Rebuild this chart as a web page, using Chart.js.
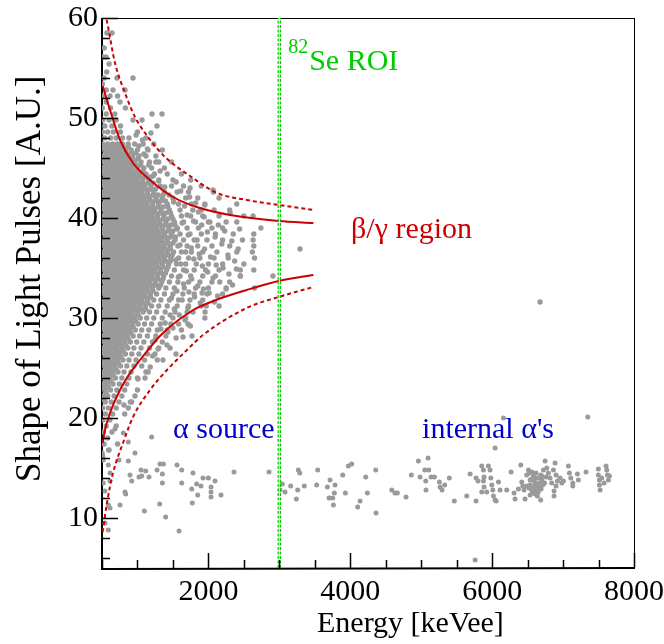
<!DOCTYPE html>
<html>
<head>
<meta charset="utf-8">
<script src="https://cdn.jsdelivr.net/npm/chart.js@4.4.1/dist/chart.umd.min.js"></script>
<style>
html,body{margin:0;padding:0;background:#fff;}
#wrap{width:664px;height:644px;}
</style>
</head>
<body>
<div id="wrap"><canvas id="c" width="664" height="644"></canvas></div>
<script>
// ---------- data ----------
const xTicks = [2000, 4000, 6000, 8000];
const yTicks = [10, 20, 30, 40, 50, 60];
const roiEnergy = 3000;

// beta/gamma cloud, rows of [shape value, [energies]]
const betaRows = [
 [58.5,[570,641]],
 [57.0,[530]],
 [56.1,[514,556]],
 [55.4,[600]],
 [54.6,[566]],
 [54.0,[530,711,937]],
 [53.4,[505]],
 [52.8,[560,655,824]],
 [52.2,[510,613,720]],
 [51.6,[560,754]],
 [51.0,[505,620,830]],
 [50.4,[560,680,1205,1346]],
 [49.8,[510,600,700,937,1064]],
 [49.2,[540,640,760,1275]],
 [48.6,[505,580,660,760,1000]],
 [48.0,[540,620,700,790,880,1120]],
 [47.4,[510,580,650,720,790,870,960,1080,1230]],
 [46.8,[540,610,680,750,830,910,1000,1150,1350]],
 [46.2,[505,570,640,710,780,850,930,1020,1120,1260]],
 [45.6,[530,600,670,740,810,880,960,1050,1170,1300,1480]],
 [45.0,[505,570,640,710,780,850,920,1000,1090,1200,1380]],
 [44.4,[535,605,675,745,815,885,955,1030,1120,1240,1420,1620]],
 [43.8,[505,570,640,710,780,850,920,990,1070,1160,1300,1500,1750]],
 [43.2,[535,605,675,745,815,885,955,1025,1100,1190,1320,1480,1650,1900]],
 [42.6,[505,570,640,710,780,850,920,990,1060,1140,1230,1380,1560,1720,2070]],
 [42.0,[535,605,675,745,815,885,955,1025,1095,1170,1260,1350,1500,1680,1850,2150]],
 [41.4,[505,570,640,710,780,850,920,990,1060,1130,1210,1300,1420,1580,1760,1950,2400]],
 [40.8,[535,605,675,745,815,885,955,1025,1095,1165,1240,1330,1450,1600,1780,1900,2080,2300]],
 [40.2,[505,570,640,710,780,850,920,990,1060,1130,1200,1280,1370,1480,1620,1750,1920,2150,2500,2630]],
 [39.6,[535,605,675,745,815,885,955,1025,1095,1165,1235,1310,1400,1520,1650,1820,2000,2250,2400]],
 [39.0,[505,570,640,710,780,850,920,990,1060,1130,1200,1270,1350,1440,1560,1700,1860,2050,2200,2740]],
 [38.4,[535,605,675,745,815,885,955,1025,1095,1165,1235,1305,1380,1480,1600,1740,1900,2100,2350,2640]],
 [37.8,[505,570,640,710,780,850,920,990,1060,1130,1200,1270,1340,1420,1530,1650,1800,1980,2200,2480,2630]],
 [37.2,[535,605,675,745,815,885,955,1025,1095,1165,1235,1305,1375,1460,1570,1700,1850,2050,2300,2640]],
 [36.6,[505,570,640,710,780,850,920,990,1060,1130,1200,1270,1340,1420,1510,1620,1760,1920,2120,2400,2620]],
 [36.0,[535,605,675,745,815,885,955,1025,1095,1165,1235,1305,1380,1470,1580,1720,1880,2080,2280,2650]],
 [35.4,[505,570,640,710,780,850,920,990,1060,1130,1200,1270,1350,1440,1550,1680,1830,2000,2200,2500]],
 [34.8,[535,605,675,745,815,885,955,1025,1095,1165,1240,1320,1410,1520,1650,1800,1960,2150,2450,2640]],
 [34.2,[505,570,640,710,780,850,920,990,1060,1130,1200,1280,1370,1480,1600,1750,1920,2100,2450,2910]],
 [33.6,[535,605,675,745,815,885,955,1025,1095,1170,1250,1340,1450,1570,1720,1880,2050,2300]],
 [33.0,[505,570,640,710,780,850,920,990,1060,1130,1210,1300,1400,1520,1660,1820,2000,2250,2650]],
 [32.4,[535,605,675,745,815,885,955,1025,1100,1180,1270,1380,1500,1640,1800,1980,2200]],
 [31.8,[505,570,640,710,780,850,920,990,1060,1140,1230,1330,1450,1580,1740,1920]],
 [31.2,[535,605,675,745,815,885,955,1030,1110,1200,1300,1420,1560,1720,1900,2150]],
 [30.6,[505,570,640,710,780,850,920,1000,1080,1170,1270,1390,1530,1700,1953]],
 [30.0,[535,605,675,745,815,885,960,1040,1130,1230,1350,1500,1680,1950]],
 [29.4,[505,570,640,710,780,850,925,1010,1100,1200,1320,1470,1712]],
 [28.8,[535,605,675,745,815,890,970,1060,1160,1280,1420,1620]],
 [28.2,[505,570,640,710,780,855,940,1030,1140,1260,1400,1769]],
 [27.6,[535,605,675,745,820,900,990,1090,1210,1350]],
 [27.0,[505,570,640,710,785,865,950,1050,1170,1300,1459]],
 [26.4,[535,605,675,750,830,920,1020,1140,1247,1543]],
 [25.8,[505,570,640,715,795,880,980,1100,1280]],
 [25.2,[535,605,680,760,850,950,1060]],
 [24.6,[505,570,645,725,810,910,1150]],
 [24.0,[535,610,690,780,880,1000,1106]],
 [23.4,[505,575,655,745,850]],
 [22.8,[540,620,710,820,1000]],
 [22.2,[505,580,670,780,965]],
 [21.6,[545,630,740,900]],
 [21.0,[510,590,700,871]],
 [20.4,[550,650,820]],
 [19.8,[515,610]],
 [19.2,[560,700]],
 [18.6,[520,640]],
 [18.0,[580]],
 [17.4,[530,720]],
 [16.8,[600]],
 [16.2,[510]]
];

// the densest part of the cloud, in-between rows
const coreRows = [
 [47.1,[520,590,660,730,800,870]],
 [46.5,[555,625,695,765,835,905,975]],
 [45.9,[520,590,660,730,800,870,940,1010]],
 [45.3,[555,625,695,765,835,905,975,1045]],
 [44.7,[520,590,660,730,800,870,940,1010,1080]],
 [44.1,[555,625,695,765,835,905,975,1045,1115,1185]],
 [43.5,[520,590,660,730,800,870,940,1010,1080,1150,1220]],
 [42.9,[555,625,695,765,835,905,975,1045,1115,1185,1255]],
 [42.3,[520,590,660,730,800,870,940,1010,1080,1150,1220,1290,1360]],
 [41.7,[555,625,695,765,835,905,975,1045,1115,1185,1255,1325,1395]],
 [41.1,[520,590,660,730,800,870,940,1010,1080,1150,1220,1290,1360,1430]],
 [40.5,[555,625,695,765,835,905,975,1045,1115,1185,1255,1325,1395,1465]],
 [39.9,[520,590,660,730,800,870,940,1010,1080,1150,1220,1290,1360,1430,1500]],
 [39.3,[555,625,695,765,835,905,975,1045,1115,1185,1255,1325,1395,1465,1530]],
 [38.7,[520,590,660,730,800,870,940,1010,1080,1150,1220,1290,1360,1430,1500]],
 [38.1,[555,625,695,765,835,905,975,1045,1115,1185,1255,1325,1395,1465,1535]],
 [37.5,[520,590,660,730,800,870,940,1010,1080,1150,1220,1290,1360,1430,1500]],
 [36.9,[555,625,695,765,835,905,975,1045,1115,1185,1255,1325,1395,1465]],
 [36.3,[520,590,660,730,800,870,940,1010,1080,1150,1220,1290,1360,1430,1490]],
 [35.7,[555,625,695,765,835,905,975,1045,1115,1185,1255,1325,1395,1465]],
 [35.1,[520,590,660,730,800,870,940,1010,1080,1150,1220,1290,1360,1430]],
 [34.5,[555,625,695,765,835,905,975,1045,1115,1185,1255,1325,1395]],
 [33.9,[520,590,660,730,800,870,940,1010,1080,1150,1220,1290,1360]],
 [33.3,[555,625,695,765,835,905,975,1045,1115,1185,1255,1325]],
 [32.7,[520,590,660,730,800,870,940,1010,1080,1150,1220]],
 [32.1,[555,625,695,765,835,905,975,1045,1115,1185]],
 [31.5,[520,590,660,730,800,870,940,1010,1080,1150]],
 [30.9,[555,625,695,765,835,905,975,1045,1115]],
 [30.3,[520,590,660,730,800,870,940,1010]],
 [29.7,[555,625,695,765,835,905,975]],
 [29.1,[520,590,660,730,800,870,940]],
 [28.5,[555,625,695,765,835,905]],
 [27.9,[520,590,660,730,800,870]],
 [27.3,[555,625,695,765,835]],
 [26.7,[520,590,660,730,800]],
 [26.1,[555,625,695,765]],
 [25.5,[520,590,660,730]],
 [24.9,[555,625,695]],
 [24.3,[520,590,660]],
 [23.7,[555,625]],
 [23.1,[520,590]],
 [22.5,[555]],
 [21.9,[520]]
];

// scattered points around the edge of the cloud [energy, shape]
const fringePts = [
 [1320,44.7],[1385,43.1],[1445,42.3],[1510,41.6],[1545,43.6],[1610,42.7],[1665,41.2],[1700,40.3],
 [1735,42.1],[1790,39.7],[1820,41.5],[1860,40.6],[1905,39.3],[1940,40.1],[1985,38.6],[2020,39.6],
 [2095,38.1],[2140,39.3],[2190,37.4],[2230,38.7],[2275,36.3],[2330,37.7],[2370,35.7],[2420,36.9],
 [2440,38.9],[1560,38.9],[1600,37.3],[1630,39.5],[1680,36.6],[1715,38.3],[1760,37.0],[1795,35.9],
 [1840,37.8],[1870,36.4],[1915,35.2],[1945,36.9],[1990,34.6],[2030,36.1],[2065,34.0],[2110,35.3],
 [2160,33.6],[2205,35.0],[2250,32.9],[2290,34.4],[2340,33.3],[2395,34.9],[1540,35.8],[1575,34.1],
 [1610,35.4],[1650,33.4],[1690,34.7],[1725,32.6],[1765,33.9],[1805,32.1],[1850,33.2],[1885,31.5],
 [1930,32.9],[1970,31.2],[2010,32.5],[2085,31.6],[2130,32.2],[1480,32.0],[1520,30.9],[1555,32.7],
 [1590,30.3],[1630,31.8],[1670,29.8],[1710,31.0],[1745,29.2],[1390,29.5],[1430,28.6],[1460,30.3],
 [1500,29.0],[1545,28.0],[1580,29.4],[1250,27.8],[1290,26.9],[1330,28.9],[1180,25.1],[1215,26.2],
 [1120,24.6],[1020,47.2],[1090,46.4],[1160,45.3],[1220,44.2],[1070,47.8],[1140,46.9],[1260,45.6],
 [1300,43.7],[1190,48.5],[980,48.3]
];

// isolated points in the beta/gamma region and beyond
const extraPts = [
 [2065,42.8],[2305,40.5],[1950,41.3],[1741,43.0],[3292,36.9],[2450,34.2],
 [1910,32.5],[1783,30.6],[1642,28.1],[1416,27.3],[1360,25.8],[1008,23.9],
 [919,21.6],[810,21.3],[6676,31.6]
];

// alpha band points [energy, shape]
const alphaPts = [
 [504,16.5],[589,16.8],[518,15.8],[589,15.3],[613,14.5],[518,13.5],[613,13.7],
 [542,12.7],[589,11.3],[613,11.0],[542,9.5],[589,8.8],[754,11.3],[740,15.8],
 [871,15.7],[895,14.3],[919,13.7],[871,17.6],[965,16.5],[801,18.5],[683,18.9],
 [824,12.6],[834,12.4],[1200,18.1],[1050,14.8],[1116,14.7],[1022,14.1],[1060,14.2],
 [1163,14.1],[1097,10.7],[1276,14.8],[1318,15.4],[1365,15.4],[1351,14.4],[1351,13.5],
 [1313,11.4],[1398,10.1],[1558,15.3],[1624,14.8],[1624,13.5],[1586,8.7],[1783,14.5],
 [1765,12.9],[1773,11.5],[1834,13.4],[1849,12.3],[1896,13.2],[1924,14.0],[1999,14.0],
 [2037,13.1],[2037,12.6],[2037,12.1],[2093,13.7],[2178,12.3],[2361,14.6],[2855,14.6],
 [3010,12.8],[3042,13.4],[3080,12.6],[3160,13.2],[3268,14.8],[3288,14.5],[3259,12.8],
 [3240,11.9],[3352,13.2],[3541,14.8],[3527,13.3],[3677,13.1],[3701,12.0],[3762,11.3],
 [3776,12.5],[3785,13.3],[3715,13.8],[3753,12.0],[3894,14.3],[3931,12.5],[3973,15.2],
 [4020,15.4],[4105,11.1],[4138,11.7],[4218,14.1],[4241,12.5],[4359,14.8],[4363,10.5],
 [4585,12.8],[4631,12.5],[4664,12.5],[4786,12.1],[4861,14.3],[4960,15.7],[4984,14.1],
 [5050,14.8],[5064,13.7],[5068,12.8],[5097,16.0],[5106,14.8],[5139,14.1],[5186,14.1],
 [5256,13.6],[5266,13.1],[5294,12.8],[5332,13.3],[5397,14.0],[5467,11.7],[5642,12.2],
 [5689,14.4],[5773,14.0],[5773,11.7],[5801,13.7],[5854,15.2],[5877,14.8],[5886,14.1],
 [5877,13.7],[5886,13.1],[5854,12.6],[5924,12.6],[5947,15.2],[5971,14.8],[5981,14.0],
 [5995,13.3],[6009,12.8],[6018,12.2],[6042,11.8],[6056,11.7],[6042,17.0],[6089,13.6],
 [6112,12.8],[6206,12.8],[6267,14.6],[6309,12.5],[6323,11.9],[6370,12.9],[6404,15.3],
 [6418,13.6],[6432,13.2],[6450,12.8],[6464,11.9],
 [6488,14.3],[6511,14.8],[6535,13.8],[6535,13.3],[6559,12.8],[6582,14.2],[6591,13.7],
 [6605,13.2],[6619,14.5],[6629,12.7],[6652,14.0],[6666,13.5],[6676,13.0],[6685,14.3],
 [6700,13.8],[6714,13.3],[6723,14.8],[6535,12.3],[6488,13.2],[6526,14.5],[6573,12.5],
 [6638,12.2],[6560,13.9],[6600,13.6],[6620,14.0],[6645,13.2],[6690,12.9],[6600,12.9],
 [6560,14.6],[6700,14.2],[6740,13.5],[6760,14.1],[6520,13.0],[6610,12.4],[6650,12.6],
 [6580,13.1],[6685,11.8],[6746,15.7],[6770,15.0],[6793,14.5],[6817,14.0],[6840,13.5],
 [6864,14.8],[6887,15.5],[6901,14.3],[6920,13.7],[6873,12.7],[6873,12.2],[6901,13.2],
 [6958,14.0],[6982,13.5],[7005,13.7],[7075,15.2],[7089,14.5],[7109,14.0],[7137,13.5],
 [7137,13.2],[7202,14.4],[7216,13.8],[7324,14.6],[7498,14.9],[7498,14.3],[7512,13.8],
 [7512,13.3],[7522,12.8],[7546,14.0],[7578,13.5],[7606,15.2],[7616,14.8],[7625,14.3],
 [7639,13.8],[7653,14.2],[5760,5.8],[7348,20.1],[6159,20.0]
];

// band curves
const upperSolidE = [510, 613, 754, 937, 1177, 1501, 1835, 2305, 2991, 3480];
const upperSolidY = [53.2, 50.8, 47.8, 45.5, 43.8, 42.1, 41.1, 40.3, 39.7, 39.5];
const lowerSolidE = [510, 542, 613, 754, 867, 1036, 1346, 1788, 2070, 2540, 2991, 3480];
const lowerSolidY = [17.5, 18.8, 20.5, 22.8, 24.2, 25.8, 28.4, 30.8, 31.7, 32.8, 33.7, 34.3];
const upperDashE = [542, 566, 683, 824, 965, 1149, 1388, 1741, 2122, 2540, 2991, 3480];
const upperDashY = [60.5, 59.8, 55.5, 52.5, 50.1, 48.1, 46.1, 44.2, 42.5, 41.8, 41.3, 40.8];
const lowerDashE = [510, 570, 655, 796, 937, 1177, 1416, 1698, 1924, 2540, 2991, 3480];
const lowerDashY = [8.6, 11.5, 14.5, 17.5, 20.1, 22.8, 24.8, 26.8, 28.3, 31.0, 32.1, 33.1];

// text labels
const xTitle = "Energy [keVee]";
const yTitle = "Shape of Light Pulses [A.U.]";

// ---------- build ----------
const FONT = "'Liberation Serif', 'Times New Roman', Times, serif";
const toPts = (xs, ys) => xs.map((x, i) => ({x: x, y: ys[i]}));
const betaPts = [];
betaRows.forEach(r => r[1].forEach(e => betaPts.push({x: e, y: r[0]})));
coreRows.forEach(r => r[1].forEach(e => betaPts.push({x: e, y: r[0]})));
fringePts.forEach(p => betaPts.push({x: p[0], y: p[1]}));
extraPts.forEach(p => betaPts.push({x: p[0], y: p[1]}));
const alphaData = alphaPts.map(p => ({x: p[0], y: p[1]}));

const RED = '#cc0000';
const GREEN = '#00cc00';
const BLUE = '#0000cc';
const GRAY = '#9a9a9a';

const lineBase = {type: 'line', pointRadius: 0, fill: false, cubicInterpolationMode: 'monotone', showLine: true};

const framePlugin = {
  id: 'frame',
  beforeDatasetsDraw(chart) {
    const {ctx, chartArea: a} = chart;
    ctx.save();
    ctx.strokeStyle = '#000';
    ctx.lineWidth = 1;
    ctx.strokeRect(a.left + 0.5, a.top + 0.5, a.right - a.left, a.bottom - a.top);
    ctx.lineWidth = 2;
    ctx.beginPath();
    ctx.moveTo(a.left, a.top); ctx.lineTo(a.left, a.bottom + 1); ctx.lineTo(a.right + 1, a.bottom);
    ctx.stroke();
    ctx.restore();
  },
  afterDatasetsDraw(chart) {
    const {ctx, chartArea: a, scales} = chart;
    const xs = scales.x, ys = scales.y;
    ctx.save();
    ctx.strokeStyle = '#000';
    ctx.lineWidth = 1.5;
    ctx.beginPath();
    for (let v = 500; v <= 8000; v += 500) {
      const px = Math.round(xs.getPixelForValue(v)) + 0.5;
      const len = xTicks.includes(v) ? 15 : 8;
      ctx.moveTo(px, a.bottom); ctx.lineTo(px, a.bottom - len);
    }
    for (let v = 6; v <= 60; v += 2) {
      const py = Math.round(ys.getPixelForValue(v)) + 0.5;
      const len = yTicks.includes(v) ? 16 : 8;
      ctx.moveTo(a.left, py); ctx.lineTo(a.left + len, py);
    }
    ctx.stroke();
    ctx.restore();
  },
  afterDraw(chart) {
    const {ctx, scales} = chart;
    const xs = scales.x, ys = scales.y;
    ctx.save();
    ctx.textBaseline = 'alphabetic';
    ctx.textAlign = 'left';
    // axis titles
    ctx.fillStyle = '#000';
    ctx.font = `30px ${FONT}`;
    ctx.fillText(xTitle, 317, 632);
    ctx.save();
    ctx.font = `35px ${FONT}`;
    ctx.translate(40, 482);
    ctx.rotate(-Math.PI / 2);
    ctx.fillText(yTitle, 0, 0);
    ctx.restore();
    // annotations
    const P = (e, s) => [xs.getPixelForValue(e), ys.getPixelForValue(s)];
    let [px, py] = P(3420, 54.8);
    ctx.fillStyle = GREEN;
    ctx.font = `30px ${FONT}`;
    ctx.fillText('Se ROI', px, py);
    ctx.font = `20px ${FONT}`;
    ctx.textAlign = 'right';
    ctx.fillText('82', px - 1, py - 17);
    ctx.textAlign = 'left';
    ctx.font = `30px ${FONT}`;
    ctx.fillStyle = RED;
    [px, py] = P(4011, 38.0);
    ctx.fillText('β/γ region', px, py);
    ctx.fillStyle = BLUE;
    [px, py] = P(1501, 18.0);
    ctx.fillText('α source', px, py);
    [px, py] = P(5012, 18.0);
    ctx.fillText("internal α's", px, py);
    ctx.restore();
  }
};

new Chart(document.getElementById('c'), {
  type: 'scatter',
  data: {
    datasets: [
      Object.assign({}, lineBase, {data: [{x: roiEnergy, y: 5}, {x: roiEnergy, y: 60}], borderColor: GREEN, borderWidth: 3.5, borderDash: [3, 1.5], cubicInterpolationMode: 'default', tension: 0, order: 1}),
      Object.assign({}, lineBase, {data: [{x: roiEnergy, y: 5}, {x: roiEnergy, y: 60}], borderColor: '#ffffff', borderWidth: 1, cubicInterpolationMode: 'default', tension: 0, order: 0}),
      Object.assign({}, lineBase, {data: toPts(upperSolidE, upperSolidY), borderColor: RED, borderWidth: 2, order: 2}),
      Object.assign({}, lineBase, {data: toPts(lowerSolidE, lowerSolidY), borderColor: RED, borderWidth: 2, order: 2}),
      Object.assign({}, lineBase, {data: toPts(upperDashE, upperDashY), borderColor: RED, borderWidth: 2, borderDash: [4, 3], order: 2}),
      Object.assign({}, lineBase, {data: toPts(lowerDashE, lowerDashY), borderColor: RED, borderWidth: 2, borderDash: [4, 3], order: 2}),
      {data: betaPts, pointRadius: 2.7, pointBackgroundColor: GRAY, pointBorderWidth: 0, showLine: false, order: 5},
      {data: alphaData, pointRadius: 2.5, pointBackgroundColor: GRAY, pointBorderWidth: 0, showLine: false, order: 5}
    ]
  },
  options: {
    responsive: false,
    animation: false,
    devicePixelRatio: 1,
    layout: {padding: {top: 18, right: 30, left: 0, bottom: 0}},
    plugins: {legend: {display: false}, tooltip: {enabled: false}},
    events: [],
    scales: {
      x: {
        type: 'linear', min: 500, max: 8000,
        afterBuildTicks: s => { s.ticks = xTicks.map(v => ({value: v})); },
        afterFit: s => { s.height = 76; s.paddingLeft = 0; s.paddingRight = 0; },
        grid: {display: false, drawTicks: false},
        border: {display: false},
        ticks: {color: '#000', font: {family: FONT, size: 30}, padding: 6, maxRotation: 0, autoSkip: false, callback: v => String(v)}
      },
      y: {
        type: 'linear', min: 5, max: 60,
        afterBuildTicks: s => { s.ticks = yTicks.map(v => ({value: v})); },
        afterFit: s => { s.width = 102; s.paddingTop = 0; s.paddingBottom = 0; },
        grid: {display: false, drawTicks: false},
        border: {display: false},
        ticks: {color: '#000', font: {family: FONT, size: 30}, padding: 4, autoSkip: false, callback: v => String(v)}
      }
    }
  },
  plugins: [framePlugin]
});
</script>
</body>
</html>
